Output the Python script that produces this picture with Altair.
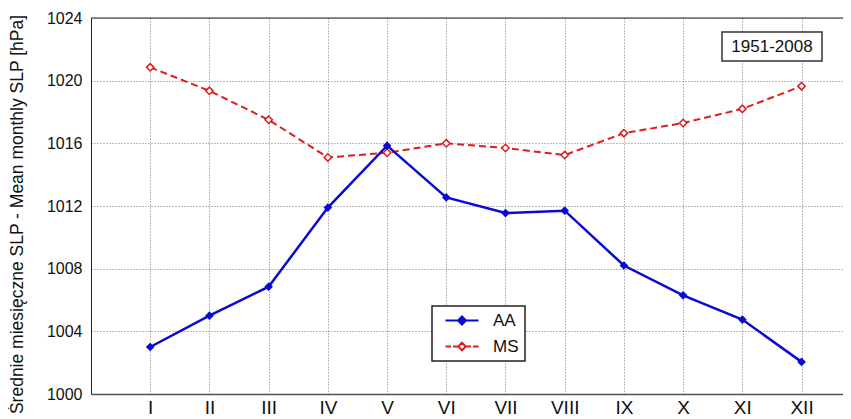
import altair as alt
import pandas as pd

months = ["I", "II", "III", "IV", "V", "VI", "VII", "VIII", "IX", "X", "XI", "XII"]
month_num = list(range(1, 13))
aa = [1003.0, 1005.0, 1006.85, 1011.9, 1015.85, 1012.55, 1011.55, 1011.7, 1008.2, 1006.3, 1004.75, 1002.05]
ms = [1020.85, 1019.35, 1017.5, 1015.1, 1015.4, 1016.0, 1015.7, 1015.25, 1016.65, 1017.3, 1018.2, 1019.65]
series_names = ["AA", "MS"]
y_ticks = [1000, 1004, 1008, 1012, 1016, 1020, 1024]
period = "1951-2008"
y_title = "Średnie miesięczne SLP - Mean monthly SLP [hPa]"

BLUE = "#0a0ad2"
RED = "#dc1e1e"
FONT = "Liberation Sans"
NARROW = "Liberation Sans Narrow, Liberation Sans"

rows = []
for name, vals in (("AA", aa), ("MS", ms)):
    for m, v in zip(month_num, vals):
        rows.append({"series": name, "m": m, "slp": v})
df = pd.DataFrame(rows)

label_expr = "[''," + ",".join("'%s'" % s for s in months) + "][datum.value]"

x_enc = alt.X(
    "m:Q",
    scale=alt.Scale(domain=[0, 12.7], nice=False, zero=False),
    axis=alt.Axis(
        values=month_num, labelExpr=label_expr, grid=True, ticks=False,
        labelFontSize=19, labelPadding=4, labelColor="#111", labelFont=NARROW,
        domainColor="#555", domainWidth=1.5,
        gridColor="#777", gridDash=[1, 2], gridWidth=1, title=None,
    ),
)
y_enc = alt.Y(
    "slp:Q",
    scale=alt.Scale(domain=[1000, 1024], nice=False, zero=False),
    axis=alt.Axis(
        values=y_ticks, format="d", grid=True, ticks=False, labelFontSize=16, labelPadding=9,
        labelColor="#111", labelFont=FONT, domainColor="#222", domainWidth=1,
        gridColor="#777", gridDash=[1, 2], gridWidth=1,
        title=y_title, titleFont=FONT, titleFontSize=17.5, titleFontWeight="normal",
        titleColor="#111", titleX=-74, titleY=196, titleBaseline="middle",
    ),
)

base = alt.Chart(df).encode(x=x_enc, y=y_enc)

top_border = alt.Chart(alt.Data(values=[{"v": 1024}])).mark_rule(
    color="#222", strokeWidth=1
).encode(y=alt.Y("v:Q"))

ms_line = base.transform_filter("datum.series == 'MS'").mark_line(
    color=RED, strokeWidth=2, strokeDash=[7, 4]
)
ms_pts = base.transform_filter("datum.series == 'MS'").mark_point(
    shape="diamond", filled=True, fill="white", stroke=RED, strokeWidth=1.5, size=55, opacity=1
)
aa_line = base.transform_filter("datum.series == 'AA'").mark_line(color=BLUE, strokeWidth=2.5)
aa_pts = base.transform_filter("datum.series == 'AA'").mark_point(
    shape="diamond", filled=True, color=BLUE, size=75, opacity=1
)

PATH_AA = "M-0.2,0L6.4,0M3.1,-0.8L3.9,0L3.1,0.8L2.3,0Z"
PATH_MS = ("M-0.2,0L0.9,0M1.3,0L2.2,0M4,0L4.9,0M5.3,0L6.4,0"
           "M3.1,-0.75L3.85,0L3.1,0.75L2.35,0Z")

legend_layer = base.mark_point(filled=True, opacity=0, strokeWidth=2).encode(
    shape=alt.Shape("series:N", scale=alt.Scale(domain=series_names, range=[PATH_AA, PATH_MS]), title=None),
    stroke=alt.Stroke("series:N", scale=alt.Scale(domain=series_names, range=[BLUE, RED]), title=None),
    fill=alt.Fill("series:N", scale=alt.Scale(domain=series_names, range=[BLUE, "white"]), title=None),
)

box = alt.Chart(alt.Data(values=[{"t": period}])).mark_rect(
    fill="white", stroke="#333", strokeWidth=1.5
).encode(x=alt.value(631), x2=alt.value(731), y=alt.value(14), y2=alt.value(43))
box_text = alt.Chart(alt.Data(values=[{"t": period}])).mark_text(
    fontSize=17, font=FONT, color="#111", baseline="middle", align="center"
).encode(x=alt.value(681), y=alt.value(29), text="t:N")

chart = alt.layer(
    top_border, ms_line, ms_pts, aa_line, aa_pts, legend_layer, box, box_text
).properties(
    width=752, height=376,
    autosize=alt.AutoSizeParams(type="none"),
    padding={"left": 83, "top": 10, "right": 0, "bottom": 25},
).configure_view(stroke=None).configure_legend(
    orient="none", legendX=341, legendY=288,
    strokeColor="#222", strokeWidth=1.5, fillColor="white", padding=6,
    symbolSize=100, symbolStrokeWidth=2, symbolOpacity=1,
    labelFontSize=17, labelFont=FONT, labelColor="#111", labelOffset=38,
    rowPadding=8,
)

chart.save("out.html", embed_options={"renderer": "svg", "actions": False})
